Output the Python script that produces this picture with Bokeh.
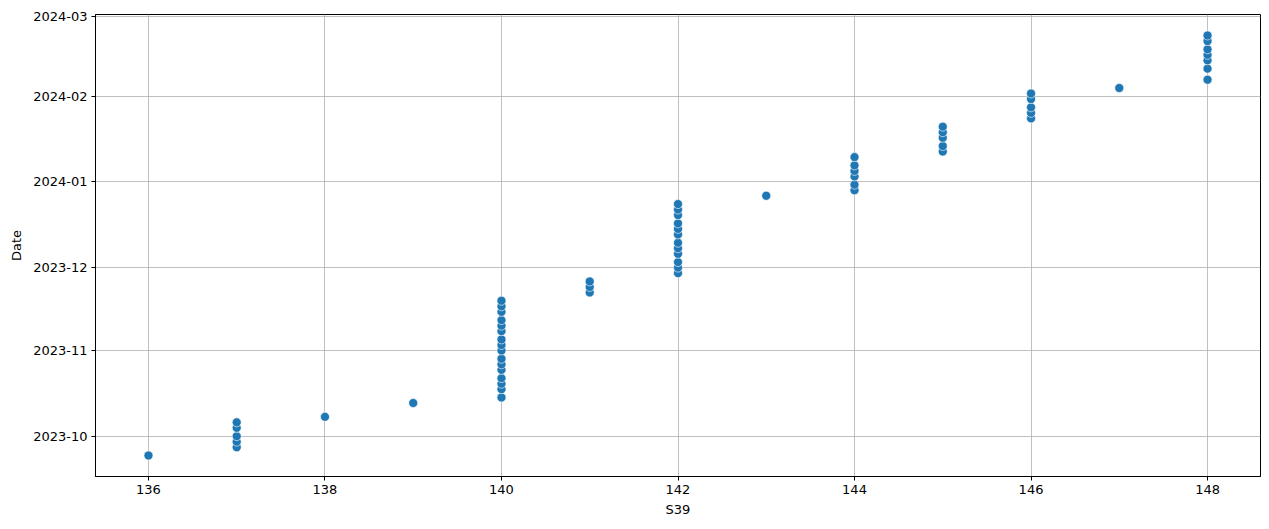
import pandas as pd
from bokeh.plotting import figure
from bokeh.models import (Range1d, DatetimeTickFormatter, MonthsTicker,
                          ColumnDataSource, SingleIntervalTicker)
from bokeh.embed import file_html
from bokeh.resources import INLINE

# ---- data ----
s39 = ([136] + [137] * 5 + [138] + [139] + [140] * 16 + [141] * 3 +
       [142] * 12 + [143] + [144] * 6 + [145] * 5 + [146] * 5 + [147] + [148] * 7)

dates = [
    "2023-09-24",
    "2023-09-27", "2023-09-29", "2023-10-01", "2023-10-04", "2023-10-06",
    "2023-10-08",
    "2023-10-13",
    "2023-10-15", "2023-10-18", "2023-10-20", "2023-10-22", "2023-10-25",
    "2023-10-27", "2023-10-29", "2023-11-01", "2023-11-03", "2023-11-05",
    "2023-11-08", "2023-11-10", "2023-11-12", "2023-11-15", "2023-11-17",
    "2023-11-19",
    "2023-11-22", "2023-11-24", "2023-11-26",
    "2023-11-29", "2023-12-01", "2023-12-03", "2023-12-06", "2023-12-08",
    "2023-12-10", "2023-12-13", "2023-12-15", "2023-12-17", "2023-12-20",
    "2023-12-22", "2023-12-24",
    "2023-12-27",
    "2023-12-29", "2023-12-31", "2024-01-03", "2024-01-05", "2024-01-07",
    "2024-01-10",
    "2024-01-12", "2024-01-14", "2024-01-17", "2024-01-19", "2024-01-21",
    "2024-01-24", "2024-01-26", "2024-01-28", "2024-01-31", "2024-02-02",
    "2024-02-04",
    "2024-02-07", "2024-02-11", "2024-02-14", "2024-02-16", "2024-02-18",
    "2024-02-21", "2024-02-23",
]

x_label = "S39"
y_label = "Date"

# ---- build ----
d = pd.to_datetime(dates)
src = ColumnDataSource(dict(x=s39, y=d))

xmin, xmax = min(s39), max(s39)
xpad = (xmax - xmin) * 0.05
ymin, ymax = d.min(), d.max()
ypad = (ymax - ymin) * 0.05

p = figure(width=1263, height=521, output_backend="svg", toolbar_location=None,
           y_axis_type="datetime",
           x_range=Range1d(xmin - xpad, xmax + xpad),
           y_range=Range1d(ymin - ypad, ymax + ypad),
           min_border_left=95, min_border_right=3,
           min_border_top=14, min_border_bottom=45)

p.scatter("x", "y", source=src, size=9, fill_color="#1f77b4",
          line_color="white", line_width=0.6)

p.xaxis.ticker = SingleIntervalTicker(interval=2, num_minor_ticks=0)
p.yaxis.ticker = MonthsTicker(months=list(range(12)))
p.yaxis.formatter = DatetimeTickFormatter(months="%Y-%m", days="%Y-%m",
                                          years="%Y-%m")

for ax in (p.xaxis[0], p.yaxis[0]):
    ax.major_label_text_font = "DejaVu Sans"
    ax.major_label_text_font_size = "13px"
    ax.major_label_text_color = "black"
    ax.axis_label_text_font = "DejaVu Sans"
    ax.axis_label_text_font_size = "13px"
    ax.axis_label_text_font_style = "normal"
    ax.axis_label_text_color = "black"
    ax.axis_line_color = "black"
    ax.axis_line_width = 1
    ax.major_tick_line_color = "black"
    ax.major_tick_out = 4
    ax.major_tick_in = 0
    ax.minor_tick_line_color = None
    ax.major_label_standoff = 4

p.xaxis.axis_label = x_label
p.yaxis.axis_label = y_label
p.xaxis.axis_label_standoff = 5
p.yaxis.axis_label_standoff = 6

p.grid.grid_line_color = "#b0b0b0"
p.grid.grid_line_width = 0.8
p.outline_line_color = "black"
p.outline_line_width = 1
p.background_fill_color = "white"
p.border_fill_color = "white"

open("out.html", "w").write(file_html(p, INLINE))
